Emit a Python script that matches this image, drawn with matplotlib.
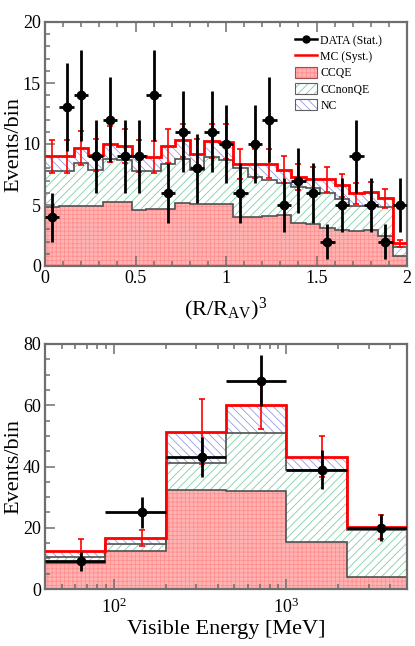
import numpy as np
import matplotlib
matplotlib.use('Agg')
import matplotlib.pyplot as plt
from matplotlib.patches import Patch
from matplotlib.lines import Line2D
from matplotlib.legend_handler import HandlerTuple
from matplotlib.ticker import MultipleLocator, LogLocator, NullFormatter, FormatStrFormatter

plt.rcParams['font.family'] = ['Liberation Serif', 'DejaVu Serif']
plt.rcParams['mathtext.fontset'] = 'custom'
plt.rcParams['mathtext.rm'] = 'Liberation Serif'
plt.rcParams['mathtext.it'] = 'Liberation Serif:italic'
plt.rcParams['hatch.linewidth'] = 0.6

# ---- top panel: (R/R_AV)^3, 25 bins from 0 to 2
r_lo, r_hi, r_nbins = 0.0, 2.0, 25
r_data = [4, 13, 14, 9, 12, 9, 9, 14, 6, 11, 8, 11, 10, 6, 10, 12, 5, 7, 6, 2, 5, 9, 5, 2, 5]
r_ccqe = [4.8, 4.95, 4.95, 4.9, 5.25, 5.25, 4.6, 4.65, 4.65, 5.2, 5.05, 5.1, 5.1,
          4.05, 4.05, 4.1, 4.2, 3.55, 3.45, 3.15, 2.95, 2.85, 2.95, 2.45, 0.8]
r_ccnonqe = [3.0, 2.85, 3.5, 2.95, 3.5, 3.45, 3.2, 3.15, 3.75, 3.55, 2.8, 3.85, 3.6,
             3.95, 3.25, 2.95, 2.6, 2.95, 2.95, 2.85, 2.55, 2.1, 2.0, 2.35, 0.75]
r_nc = [1.2, 1.2, 1.25, 1.25, 1.25, 1.15, 1.2, 1.15, 1.45, 1.55, 1.3, 1.3, 1.5,
        0.35, 1.1, 1.35, 1.1, 0.8, 0.75, 1.1, 1.1, 1.0, 1.1, 0.75, 0.3]
r_syst = [1.35, 1.35, 1.4, 1.35, 1.45, 1.4, 1.3, 1.3, 1.4, 1.35, 1.3, 1.4, 1.4,
          1.2, 1.2, 1.15, 1.1, 1.05, 1.0, 1.0, 0.95, 0.85, 0.85, 0.8, 0.27]

# ---- bottom panel: visible energy, 6 log bins
e_edges = [40, 89.4, 200, 447.2, 1000, 2236, 5000]
e_datax = [65, 145, 325, 715, 1600, 3550]
e_data = [9, 25, 43, 68, 39, 20]
e_ccqe = [8.6, 12.5, 32.2, 31.9, 15.4, 3.8]
e_ccnonqe = [1.8, 2.2, 9.0, 19.1, 23.6, 15.4]
e_nc = [1.9, 2.0, 10.1, 9.0, 4.2, 1.1]
e_syst = [4.0, 2.7, 10.6, 7.6, 6.6, 3.9]

pink, pink_hatch = '#ffb4b4', '#ff8f8f'
green = '#7fcfa5'
blue = '#9a9ae8'
gray_line = '#505050'
frame = '#6e6e6e'


def draw_panel(ax, edges, datax, xerr, data, ccqe, ccnonqe, nc, syst):
    edges = np.asarray(edges, float)
    left = edges[:-1]
    width = np.diff(edges)
    ccqe = np.asarray(ccqe)
    cc = ccqe + np.asarray(ccnonqe)
    tot = cc + np.asarray(nc)
    ax.bar(left, ccqe, width, align='edge', facecolor=pink, edgecolor=pink_hatch,
           hatch='++++', linewidth=0, zorder=1)
    ax.bar(left, ccnonqe, width, bottom=ccqe, align='edge', facecolor='white',
           edgecolor=green, hatch='////', linewidth=0, zorder=1)
    ax.bar(left, nc, width, bottom=cc, align='edge', facecolor='white',
           edgecolor=blue, hatch='\\\\\\\\', linewidth=0, zorder=1)
    ax.stairs(ccqe, edges, baseline=None, color=gray_line, lw=1.2, zorder=2)
    ax.stairs(cc, edges, baseline=None, color=gray_line, lw=1.2, zorder=2)
    ax.stairs(tot, edges, baseline=None, color='red', lw=2.0, zorder=3)
    dx = np.asarray(datax) if datax is not None else left + width / 2
    ax.errorbar(dx, tot, yerr=syst, fmt='none',
                ecolor='red', elinewidth=1.2, capsize=2, capthick=1.2, zorder=4)
    if xerr is None:
        xe = [dx - left, edges[1:] - dx]
    else:
        xe = xerr
    ax.errorbar(dx, data, xerr=xe, yerr=np.sqrt(data), fmt='o', color='black',
                ms=6, elinewidth=2, capsize=0, zorder=5)


def style(ax):
    for s in ax.spines.values():
        s.set_color(frame)
        s.set_linewidth(1.6)
    ax.tick_params(which='both', direction='in', top=True, right=False,
                   color=frame, width=1.1, labelsize=13, pad=3)
    ax.tick_params(which='major', length=7)
    ax.tick_params(which='minor', length=3.5)


fig = plt.figure(figsize=(4.15, 6.46), dpi=100)
ax1 = fig.add_axes([45 / 415, 1 - 266 / 646, 362 / 415, 244 / 646])
ax2 = fig.add_axes([45 / 415, 1 - 589 / 646, 362 / 415, 245 / 646])

r_edges = np.linspace(r_lo, r_hi, r_nbins + 1)
r_half = (r_hi - r_lo) / r_nbins / 2
draw_panel(ax1, r_edges, None, r_half, r_data, r_ccqe, r_ccnonqe, r_nc, r_syst)
ax1.set_xlim(r_lo, r_hi)
ax1.set_ylim(0, 20)
ax1.xaxis.set_major_locator(MultipleLocator(0.5))
ax1.xaxis.set_minor_locator(MultipleLocator(0.1))
ax1.xaxis.set_major_formatter(FormatStrFormatter('%g'))
ax1.yaxis.set_major_locator(MultipleLocator(5))
ax1.yaxis.set_minor_locator(MultipleLocator(1))
style(ax1)
ax1.set_xlabel(r'(R/R$_{\rm AV}$)$^{3}$', fontsize=16)
ax1.xaxis.set_label_coords(0.5, -0.12)
ax1.set_ylabel('Events/bin', fontsize=16)
ax1.yaxis.set_label_coords(-0.06, 0.5)

handles = [
    Line2D([], [], color='black', marker='o', ms=5, lw=1.8),
    Line2D([], [], color='red', lw=1.8),
    (Patch(facecolor=pink, edgecolor=pink_hatch, hatch='++++', lw=0),
     Patch(facecolor='none', edgecolor='#a05050', lw=0.8)),
    (Patch(facecolor='white', edgecolor=green, hatch='////', lw=0),
     Patch(facecolor='none', edgecolor='#606060', lw=0.8)),
    (Patch(facecolor='white', edgecolor=blue, hatch='\\\\\\\\', lw=0),
     Patch(facecolor='none', edgecolor='#606060', lw=0.8)),
]
labels = ['DATA (Stat.)', 'MC (Syst.)', 'CCQE', 'CCnonQE', 'NC']
ax1.legend(handles, labels, loc='upper left', bbox_to_anchor=(0.69, 0.95),
           frameon=False, fontsize=8.5, handlelength=1.9, handleheight=1.1,
           handletextpad=0.25, labelspacing=0.3, borderpad=0, borderaxespad=0,
           handler_map={tuple: HandlerTuple(ndivide=1)})

draw_panel(ax2, e_edges, e_datax, None, e_data, e_ccqe, e_ccnonqe, e_nc, e_syst)
ax2.set_xscale('log')
ax2.set_xlim(e_edges[0], e_edges[-1])
ax2.set_ylim(0, 80)
ax2.xaxis.set_major_locator(LogLocator(base=10))
ax2.xaxis.set_minor_locator(LogLocator(base=10, subs=np.arange(2, 10)))
ax2.xaxis.set_minor_formatter(NullFormatter())
ax2.yaxis.set_major_locator(MultipleLocator(20))
ax2.yaxis.set_minor_locator(MultipleLocator(5))
style(ax2)
ax2.tick_params(axis='x', which='major', pad=6)
ax2.set_xlabel('Visible Energy [MeV]', fontsize=16)
ax2.xaxis.set_label_coords(0.5, -0.125)
ax2.set_ylabel('Events/bin', fontsize=16)
ax2.yaxis.set_label_coords(-0.06, 0.5)

fig.savefig('out.png', dpi=100)
